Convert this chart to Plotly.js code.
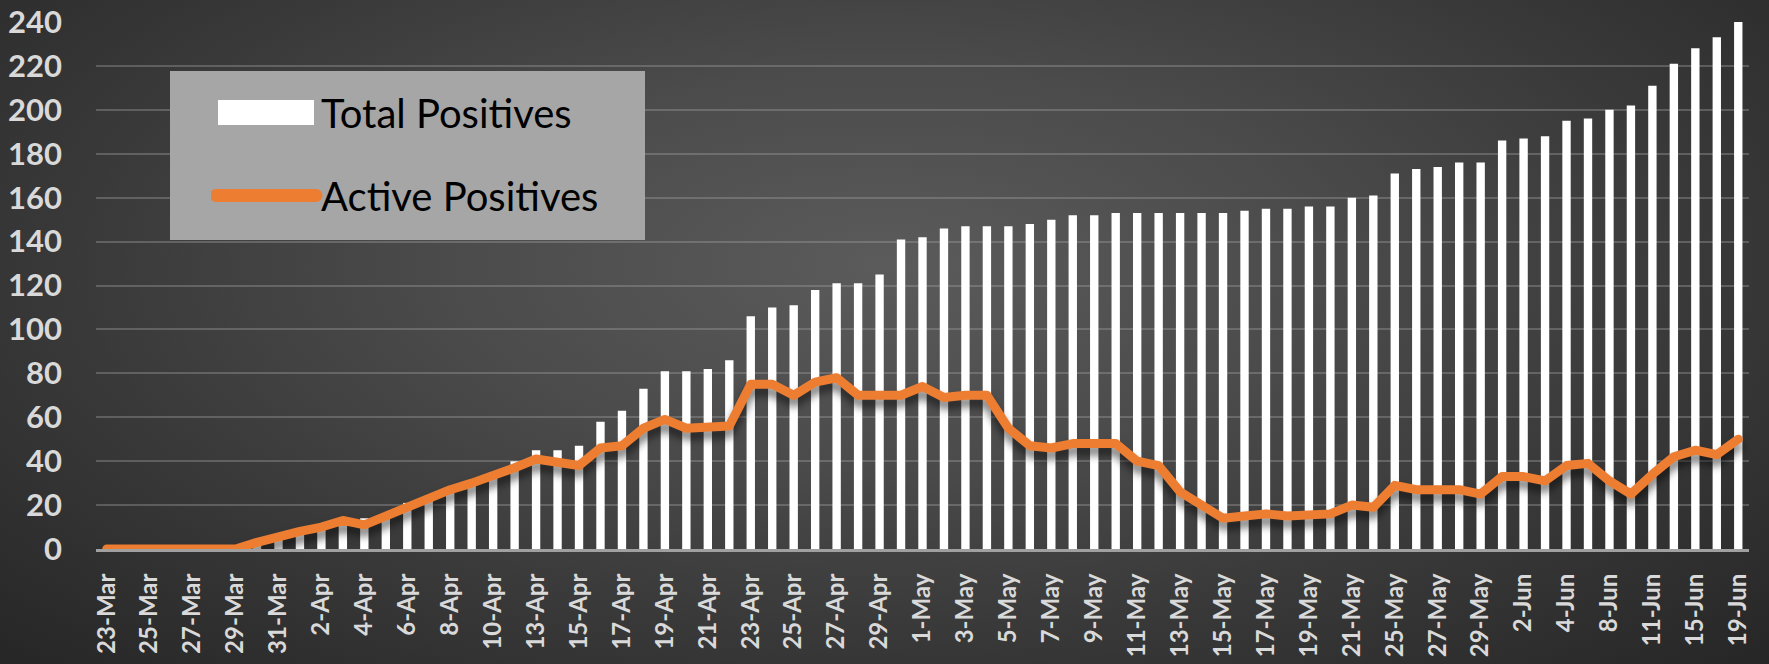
<!DOCTYPE html>
<html>
<head>
<meta charset="utf-8">
<script src="https://cdn.plot.ly/plotly-3.0.1.min.js"></script>
<style>
  html, body { margin: 0; padding: 0; }
  body { width: 1769px; height: 664px; overflow: hidden;
    background: radial-gradient(ellipse at 50% 40%, #5b5b5b 0%, #4b4b4b 35%, #393939 65%, #262626 100%); }
  #chart { width: 1769px; height: 664px; }
  .scatterlayer .js-line { stroke-linejoin: round !important; stroke-linecap: round !important;
    filter: drop-shadow(0px 7px 4px rgba(0,0,0,0.55)); }
</style>
</head>
<body>
<div id="chart"></div>
<script>
// ---- data ----
const categories = [
  "23-Mar","24-Mar","25-Mar","26-Mar","27-Mar","28-Mar","29-Mar","30-Mar","31-Mar","1-Apr",
  "2-Apr","3-Apr","4-Apr","5-Apr","6-Apr","7-Apr","8-Apr","9-Apr","10-Apr","11-Apr",
  "13-Apr","14-Apr","15-Apr","16-Apr","17-Apr","18-Apr","19-Apr","20-Apr","21-Apr","22-Apr",
  "23-Apr","24-Apr","25-Apr","26-Apr","27-Apr","28-Apr","29-Apr","30-Apr","1-May","2-May",
  "3-May","4-May","5-May","6-May","7-May","8-May","9-May","10-May","11-May","12-May",
  "13-May","14-May","15-May","16-May","17-May","18-May","19-May","20-May","21-May","23-May",
  "25-May","26-May","27-May","28-May","29-May","31-May","2-Jun","3-Jun","4-Jun","6-Jun",
  "8-Jun","10-Jun","11-Jun","13-Jun","15-Jun","17-Jun","19-Jun"
];
const totalPositives = [
  0,0,0,0,0,0,0,3,6,8,
  10,13,14,16,21,24,28,30,35,40,
  45,45,47,58,63,73,81,81,82,86,
  106,110,111,118,121,121,125,141,142,146,
  147,147,147,148,150,152,152,153,153,153,
  153,153,153,154,155,155,156,156,160,161,
  171,173,174,176,176,186,187,188,195,196,
  200,202,211,221,228,233,240
];
const activePositives = [
  0,0,0,0,0,0,0,3,6,8,
  10,13,11,15,20,23,27,30,33,37,
  41,39,38,46,47,55,59,55,55,56,
  75,75,70,76,78,70,70,70,74,69,
  70,70,55,47,46,48,48,48,40,38,
  26,20,14,15,16,15,16,16,20,19,
  29,27,27,27,25,33,33,31,38,39,
  31,25,34,42,45,43,50
];
const tickLabels = [
  "23-Mar","25-Mar","27-Mar","29-Mar","31-Mar","2-Apr","4-Apr","6-Apr","8-Apr","10-Apr",
  "13-Apr","15-Apr","17-Apr","19-Apr","21-Apr","23-Apr","25-Apr","27-Apr","29-Apr","1-May",
  "3-May","5-May","7-May","9-May","11-May","13-May","15-May","17-May","19-May","21-May",
  "25-May","27-May","29-May","2-Jun","4-Jun","8-Jun","11-Jun","15-Jun","19-Jun"
];
const yTicks = [0,20,40,60,80,100,120,140,160,180,200,220,240];

const traces = [
  {
    type: 'bar', name: 'Total Positives', x: categories, y: totalPositives,
    marker: { color: '#ffffff', line: { width: 0 } }, legendgroup: 'g1'
  },
  {
    type: 'scatter', mode: 'lines', name: 'Active Positives', x: categories, y: activePositives,
    line: { color: '#ED7D31', width: 9 }, legendgroup: 'g2'
  }
];

const W = 1769, H = 664, ML = 96, MR = 20, MT = 22, MB = 115;
const PW = W - ML - MR, PH = H - MT - MB;
const px = v => (v - ML) / PW;
const py = v => (H - MB - v) / PH;

const layout = {
  width: W, height: H,
  margin: { l: ML, r: MR, t: MT, b: MB, pad: 0 },
  paper_bgcolor: 'rgba(0,0,0,0)', plot_bgcolor: 'rgba(0,0,0,0)',
  bargap: 0.61,
  showlegend: true,
  legend: {
    x: px(211), y: py(80), xanchor: 'left', yanchor: 'top',
    bgcolor: 'rgba(0,0,0,0)', borderwidth: 0,
    font: { family: 'Lato, "Open Sans", sans-serif', size: 40, color: '#000000' },
    itemwidth: 100, tracegroupgap: 28, traceorder: 'grouped'
  },
  shapes: [{
    type: 'rect', xref: 'paper', yref: 'paper',
    x0: px(170), x1: px(645), y0: py(240), y1: py(71),
    fillcolor: '#a6a6a6', line: { width: 0 }, layer: 'above'
  }],
  xaxis: {
    type: 'category', categoryorder: 'array', categoryarray: categories,
    range: [-0.5, categories.length - 0.5],
    tickmode: 'array', tickvals: tickLabels, ticktext: tickLabels,
    tickangle: -90, ticks: '', ticklabelstandoff: 12,
    tickfont: { family: 'Lato, "Open Sans", sans-serif', size: 24, color: '#d9d9d9', weight: 700 },
    showgrid: false, zeroline: false,
    showline: true, linecolor: '#a0a0a0', linewidth: 3
  },
  yaxis: {
    range: [0, 240], tickmode: 'array', tickvals: yTicks, ticktext: yTicks.map(String),
    ticks: '', ticklabelstandoff: 33,
    tickfont: { family: 'Lato, "Open Sans", sans-serif', size: 31, color: '#d9d9d9', weight: 700 },
    showgrid: true, gridcolor: 'rgba(160,160,160,0.38)', gridwidth: 2,
    zeroline: false, showline: false
  }
};

Plotly.newPlot('chart', traces, layout, { staticPlot: true, displayModeBar: false }).then(gd => {
  const items = gd.querySelectorAll('.legend .traces');
  if (items[0]) {
    items[0].querySelectorAll('.legendpoints path').forEach(p => {
      p.setAttribute('d', 'M-48,-12.5H48V12.5H-48Z');
    });
  }
  if (items[1]) {
    items[1].querySelectorAll('.legendlines path').forEach(p => {
      p.style.strokeWidth = '13px';
      p.style.strokeLinecap = 'round';
    });
  }
});
</script>
</body>
</html>
